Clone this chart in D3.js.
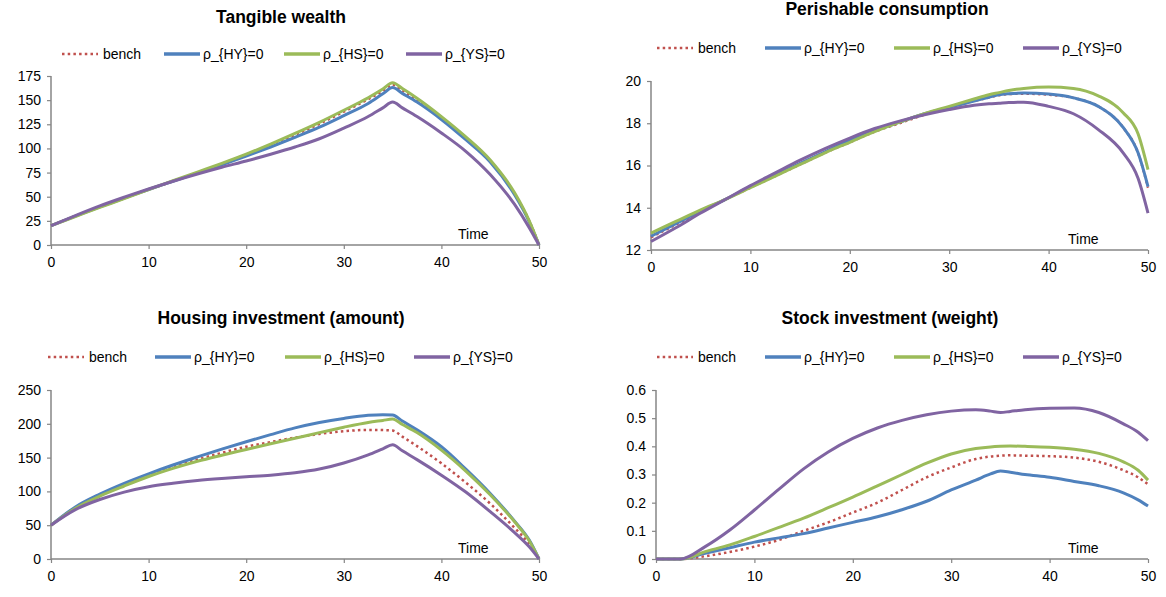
<!DOCTYPE html>
<html><head><meta charset="utf-8">
<script src="https://cdn.jsdelivr.net/npm/d3@7/dist/d3.min.js"></script>
<style>
html,body{margin:0;padding:0;background:#fff;}
text{font-family:"Liberation Sans",Arial,sans-serif;fill:#000;}
</style></head>
<body><svg id="chart" width="1166" height="597"></svg>
<script>
// ---------- DATA ----------
const time = [0,2.5,5,7.5,10,12.5,15,17.5,20,22.5,25,27.5,30,32.5,34,35,36,37.5,40,42.5,45,47.5,49,50];
const seriesNames = ["bench","ρ_{HY}=0","ρ_{HS}=0","ρ_{YS}=0"];

// Tangible wealth
const wealthBench = [20,30,39.5,48.5,57.5,66,75,84,93.5,103.5,114,125.5,138,151,159.5,166,160,150,132,111.5,87.5,53,25,0];
const wealthHY    = [20,30,39.5,48.5,57.5,66,74.5,83,92,101.5,111.5,122,134,146.5,156.5,163,157,148,130,109,86,52,24,0];
const wealthHS    = [20,29.5,39,48,57.5,66.5,75.5,84.5,94,104.5,115.5,127,139.5,152.5,161.5,168,162,152,133,112,88,54,25,0];
const wealthYS    = [20,30.5,40.5,49.5,58,66,73.5,80.5,87,94,101.5,110,121,133,142,148,142,133,116,97,73,42,18,0];
const wealthTicks = [0,25,50,75,100,125,150,175];

// Perishable consumption
const consBench = [12.6,13.2,13.8,14.4,14.95,15.5,16.05,16.6,17.1,17.6,18.0,18.4,18.75,19.05,19.22,19.33,19.38,19.4,19.35,19.2,18.8,17.8,16.6,14.95];
const consHY    = [12.65,13.25,13.85,14.4,15.0,15.55,16.1,16.65,17.2,17.65,18.05,18.45,18.75,19.05,19.23,19.35,19.4,19.43,19.38,19.2,18.8,17.8,16.6,15.0];
const consHS    = [12.8,13.35,13.9,14.4,14.95,15.5,16.05,16.6,17.1,17.6,18.05,18.45,18.8,19.15,19.35,19.45,19.55,19.65,19.72,19.65,19.3,18.5,17.5,15.8];
const consYS    = [12.4,13.05,13.75,14.4,15.05,15.65,16.25,16.8,17.3,17.75,18.1,18.4,18.65,18.85,18.92,18.95,18.98,19.0,18.8,18.45,17.7,16.6,15.4,13.75];
const consTicks = [12,14,16,18,20];

// Housing investment (amount)
const houseBench = [50,76,94,110,124,136,147,157,166,173,179.5,185,189,191,190.7,190,181,167,141.5,113,82,46,22,0];
const houseHY    = [50,77,96,112,126,139,151,162.5,173.5,184,194,202,208,212.5,213.5,213,204,191,166,133,97,56,28,0];
const houseHS    = [50,75,93,108,122,134,144.5,153.5,162,170.5,178.5,187,195,202,205,207,199,187,161,130,95,55,27,0];
const houseYS    = [50,73,88,99,107,112,116,119,121.5,124,127.5,133,142,154,163,169,160,147,124,99,70,39,18,0];
const houseTicks = [0,50,100,150,200,250];

// Stock investment (weight)
const stockBench = [0,0,0.01,0.025,0.044,0.068,0.10,0.13,0.165,0.2,0.245,0.29,0.325,0.355,0.364,0.367,0.368,0.367,0.365,0.36,0.345,0.315,0.29,0.265];
const stockHY    = [0,0,0.02,0.04,0.06,0.075,0.09,0.11,0.13,0.15,0.175,0.205,0.245,0.28,0.302,0.312,0.308,0.30,0.29,0.275,0.26,0.235,0.21,0.188];
const stockHS    = [0,0,0.026,0.05,0.08,0.112,0.145,0.182,0.22,0.26,0.30,0.34,0.373,0.392,0.398,0.40,0.401,0.40,0.397,0.39,0.375,0.345,0.315,0.28];
const stockYS    = [0,0,0.044,0.103,0.174,0.248,0.32,0.38,0.428,0.465,0.492,0.512,0.525,0.53,0.525,0.52,0.524,0.53,0.535,0.536,0.52,0.48,0.45,0.42];
const stockTicks = [0,0.1,0.2,0.3,0.4,0.5,0.6];

const xTicks = [0,10,20,30,40,50];

// ---------- STYLE ----------
const colors = ["#C0504D","#4F81BD","#9BBB59","#8064A2"];
const svg = d3.select("#chart");

const panels = [
  {title:"Tangible wealth", series:[wealthBench,wealthHY,wealthHS,wealthYS], ticks:wealthTicks, domain:[0,175],
   x:[51,539], y:[245,76], titleX:281, titleY:17, legendY:54,
   legendX:[62,164,284,406], timeX:458},
  {title:"Perishable consumption", series:[consBench,consHY,consHS,consYS], ticks:consTicks, domain:[12,20],
   x:[651,1148], y:[250,81], titleX:887, titleY:9, legendY:48,
   legendX:[657,765,894,1023], timeX:1068},
  {title:"Housing investment (amount)", series:[houseBench,houseHY,houseHS,houseYS], ticks:houseTicks, domain:[0,250],
   x:[51,539], y:[559,390], titleX:281, titleY:318, legendY:357,
   legendX:[48,155,285,414], timeX:458},
  {title:"Stock investment (weight)", series:[stockBench,stockHY,stockHS,stockYS], ticks:stockTicks, domain:[0,0.6],
   x:[656,1148], y:[559,390], titleX:890, titleY:318, legendY:357,
   legendX:[657,765,894,1023], timeX:1068}
];

panels.forEach(p => {
  const g = svg.append("g");
  const xs = d3.scaleLinear().domain([0,50]).range(p.x);
  const ys = d3.scaleLinear().domain(p.domain).range(p.y);

  // title
  g.append("text").attr("x",p.titleX).attr("y",p.titleY).attr("text-anchor","middle")
    .attr("dominant-baseline","central").style("font-weight","bold").style("font-size","17.5px").text(p.title);

  // axes
  const yAx = g.append("g").attr("transform",`translate(${p.x[0]},0)`)
    .call(d3.axisLeft(ys).tickValues(p.ticks).tickSize(4).tickPadding(6).tickFormat(d3.format("~g")));
  const xAx = g.append("g").attr("transform",`translate(0,${p.y[0]})`)
    .call(d3.axisBottom(xs).tickValues(xTicks).tickSize(4).tickPadding(8));
  [yAx,xAx].forEach(a=>{
    a.selectAll("path").attr("stroke","#868686").attr("stroke-width",1.5);
    a.selectAll("line").attr("stroke","#868686").attr("stroke-width",1.2);
    a.selectAll("text").style("font-size","14px").attr("fill","#000");
  });
  yAx.select(".domain").attr("d",`M0,${p.y[1]}V${p.y[0]}`);
  xAx.select(".domain").attr("d",`M${p.x[0]},0H${p.x[1]}`);

  // Time label
  g.append("text").attr("x",p.timeX).attr("y",p.y[0]-6).style("font-size","14px").text("Time");

  // lines
  const line = d3.line().x((d,i)=>xs(time[i])).y(d=>ys(d)).curve(d3.curveMonotoneX);
  p.series.forEach((s,k)=>{
    const path = g.append("path").datum(s).attr("d",line).attr("fill","none")
      .attr("stroke",colors[k]).attr("stroke-width",k===0?2.5:3).attr("stroke-linejoin","round");
    if(k===0) path.attr("stroke-dasharray","2.5,3.2");
  });

  // legend
  seriesNames.forEach((n,k)=>{
    const lx = p.legendX[k];
    const l = g.append("line").attr("x1",lx).attr("x2",lx+36).attr("y1",p.legendY).attr("y2",p.legendY)
      .attr("stroke",colors[k]).attr("stroke-width",k===0?2.5:3.5);
    if(k===0) l.attr("stroke-dasharray","2.5,3.2");
    g.append("text").attr("x",lx+(k===0?41:39)).attr("y",p.legendY).attr("dominant-baseline","central")
      .style("font-size","14px").text(n);
  });
});
</script></body></html>
